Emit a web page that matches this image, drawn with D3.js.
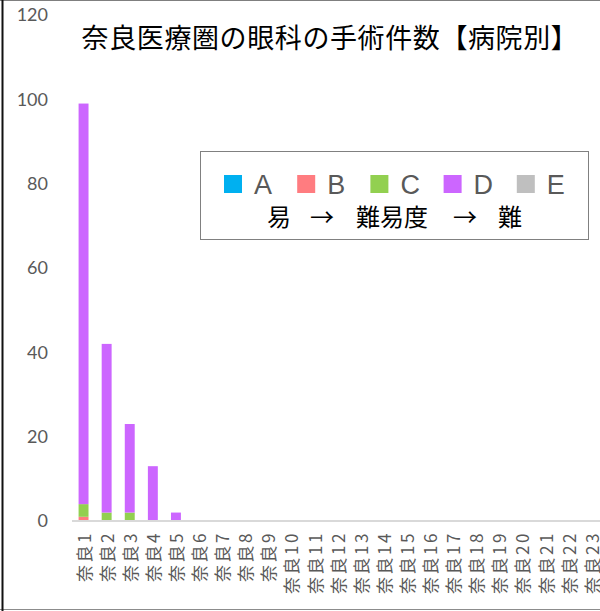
<!DOCTYPE html>
<meta charset="utf-8">
<style>
body {
    margin: 0;
    background: white;
}

.ytick text {
    font-family: Lato, "Open Sans", sans-serif;
    font-size: 18px;
    fill: #595959;
}

.xtick text {
    font-family: "Noto Sans CJK JP", sans-serif;
    font-size: 17px;
    letter-spacing: 2.5px;
    fill: #595959;
}

.title {
    font-family: "Noto Sans CJK JP", sans-serif;
    font-size: 27px;
    letter-spacing: 0.6px;
    fill: #000;
}

.legend-key {
    font-family: "Liberation Sans", Arial, sans-serif;
    font-size: 27px;
    fill: #595959;
}

.legend-note {
    font-family: "Noto Sans CJK JP", sans-serif;
    font-size: 24px;
    fill: #000;
}
</style>

<body>
    <script src="https://d3js.org/d3.v7.min.js"></script>
    <script>
    // hospitals (categories)
    var hospitals = ["奈良1", "奈良2", "奈良3", "奈良4", "奈良5", "奈良6", "奈良7", "奈良8",
        "奈良9", "奈良10", "奈良11", "奈良12", "奈良13", "奈良14", "奈良15", "奈良16",
        "奈良17", "奈良18", "奈良19", "奈良20", "奈良21", "奈良22", "奈良23"];

    // surgery counts by difficulty, A = easy ... E = hard
    var seriesA = [0, 0, 0, 0, 0, 0, 0, 0, 0, 0, 0, 0, 0, 0, 0, 0, 0, 0, 0, 0, 0, 0, 0];
    var seriesB = [1, 0, 0, 0, 0, 0, 0, 0, 0, 0, 0, 0, 0, 0, 0, 0, 0, 0, 0, 0, 0, 0, 0];
    var seriesC = [3, 2, 2, 0, 0, 0, 0, 0, 0, 0, 0, 0, 0, 0, 0, 0, 0, 0, 0, 0, 0, 0, 0];
    var seriesD = [95, 40, 21, 13, 2, 0, 0, 0, 0, 0, 0, 0, 0, 0, 0, 0, 0, 0, 0, 0, 0, 0, 0];
    var seriesE = [0, 0, 0, 0, 0, 0, 0, 0, 0, 0, 0, 0, 0, 0, 0, 0, 0, 0, 0, 0, 0, 0, 0];

    var keys = ["A", "B", "C", "D", "E"];
    var colors = ["#00B0F0", "#FF7C80", "#92D050", "#CC66FF", "#BFBFBF"];
    var yTicks = [0, 20, 40, 60, 80, 100, 120];

    var titleText = "奈良医療圏の眼科の手術件数【病院別】";

    var width = 600,
        height = 611;

    // build the table d3.stack needs
    var table = hospitals.map(function(h, i) {
        return { name: h, A: seriesA[i], B: seriesB[i], C: seriesC[i], D: seriesD[i], E: seriesE[i] };
    });
    var stacked = d3.stack().keys(keys)(table);

    var x = d3.scaleBand()
        .domain(hospitals)
        .range([72, 72 + 23.1 * hospitals.length])
        .paddingInner(0.57)
        .paddingOuter(0.285);

    var y = d3.scaleLinear()
        .domain([0, 120])
        .range([521, 15]);

    var color = d3.scaleOrdinal().domain(keys).range(colors);

    var svg = d3.select("body")
        .append("svg")
        .attr("width", width)
        .attr("height", height);

    // outer frame
    svg.append("line").attr("x1", 0).attr("x2", width).attr("y1", 0.5).attr("y2", 0.5)
        .attr("stroke", "#7f7f7f");
    svg.append("line").attr("x1", 0).attr("x2", width).attr("y1", 609.5).attr("y2", 609.5)
        .attr("stroke", "#8c8c8c");
    svg.append("line").attr("x1", 2.5).attr("x2", 2.5).attr("y1", 0).attr("y2", height)
        .attr("stroke", "#111").attr("stroke-width", 2);

    // y axis labels only
    var yAxis = svg.append("g")
        .attr("class", "ytick")
        .attr("transform", "translate(48,0)")
        .call(d3.axisLeft(y).tickValues(yTicks).tickSize(0).tickPadding(0));
    yAxis.select(".domain").remove();

    // stacked bars
    svg.selectAll(".layer")
        .data(stacked)
        .enter()
        .append("g")
        .attr("class", "layer")
        .attr("fill", function(d) { return color(d.key); })
        .selectAll("rect")
        .data(function(d) { return d; })
        .enter()
        .append("rect")
        .attr("x", function(d) { return x(d.data.name); })
        .attr("width", x.bandwidth())
        .attr("y", function(d) { return y(d[1]); })
        .attr("height", function(d) { return y(d[0]) - y(d[1]); });

    // x axis
    var xAxis = svg.append("g")
        .attr("class", "xtick")
        .attr("transform", "translate(0," + y(0) + ")")
        .call(d3.axisBottom(x).tickSize(0).tickPadding(0));
    xAxis.select(".domain")
        .attr("d", "M72,0H" + width)
        .attr("stroke", "#d9d9d9")
        .attr("stroke-width", 2);
    xAxis.selectAll(".tick text")
        .attr("text-anchor", "end")
        .attr("y", 0)
        .attr("dy", "0.35em")
        .attr("transform", "translate(1,10) rotate(-90)");

    // title
    svg.append("text")
        .attr("class", "title")
        .attr("x", 330)
        .attr("y", 48)
        .attr("text-anchor", "middle")
        .text(titleText);

    // legend
    var legend = svg.append("g").attr("class", "legend");
    legend.append("rect")
        .attr("x", 200.5)
        .attr("y", 151.5)
        .attr("width", 388)
        .attr("height", 88)
        .attr("fill", "#fff")
        .attr("stroke", "#808080");

    var item = legend.selectAll(".item")
        .data(keys)
        .enter()
        .append("g")
        .attr("class", "item")
        .attr("transform", function(d, i) { return "translate(" + (224 + i * 73.2) + ",175)"; });
    item.append("rect")
        .attr("width", 18)
        .attr("height", 18)
        .attr("fill", function(d) { return color(d); });
    item.append("text")
        .attr("class", "legend-key")
        .attr("x", 30)
        .attr("y", 18.5)
        .text(function(d) { return d; });

    // difficulty note under the keys
    var note = [["易", 267], ["→", 310], ["難易度", 356], ["→", 453], ["難", 498]];
    legend.selectAll(".legend-note")
        .data(note)
        .enter()
        .append("text")
        .attr("class", "legend-note")
        .attr("x", function(d) { return d[1]; })
        .attr("y", 226)
        .text(function(d) { return d[0]; });
    </script>
</body>
